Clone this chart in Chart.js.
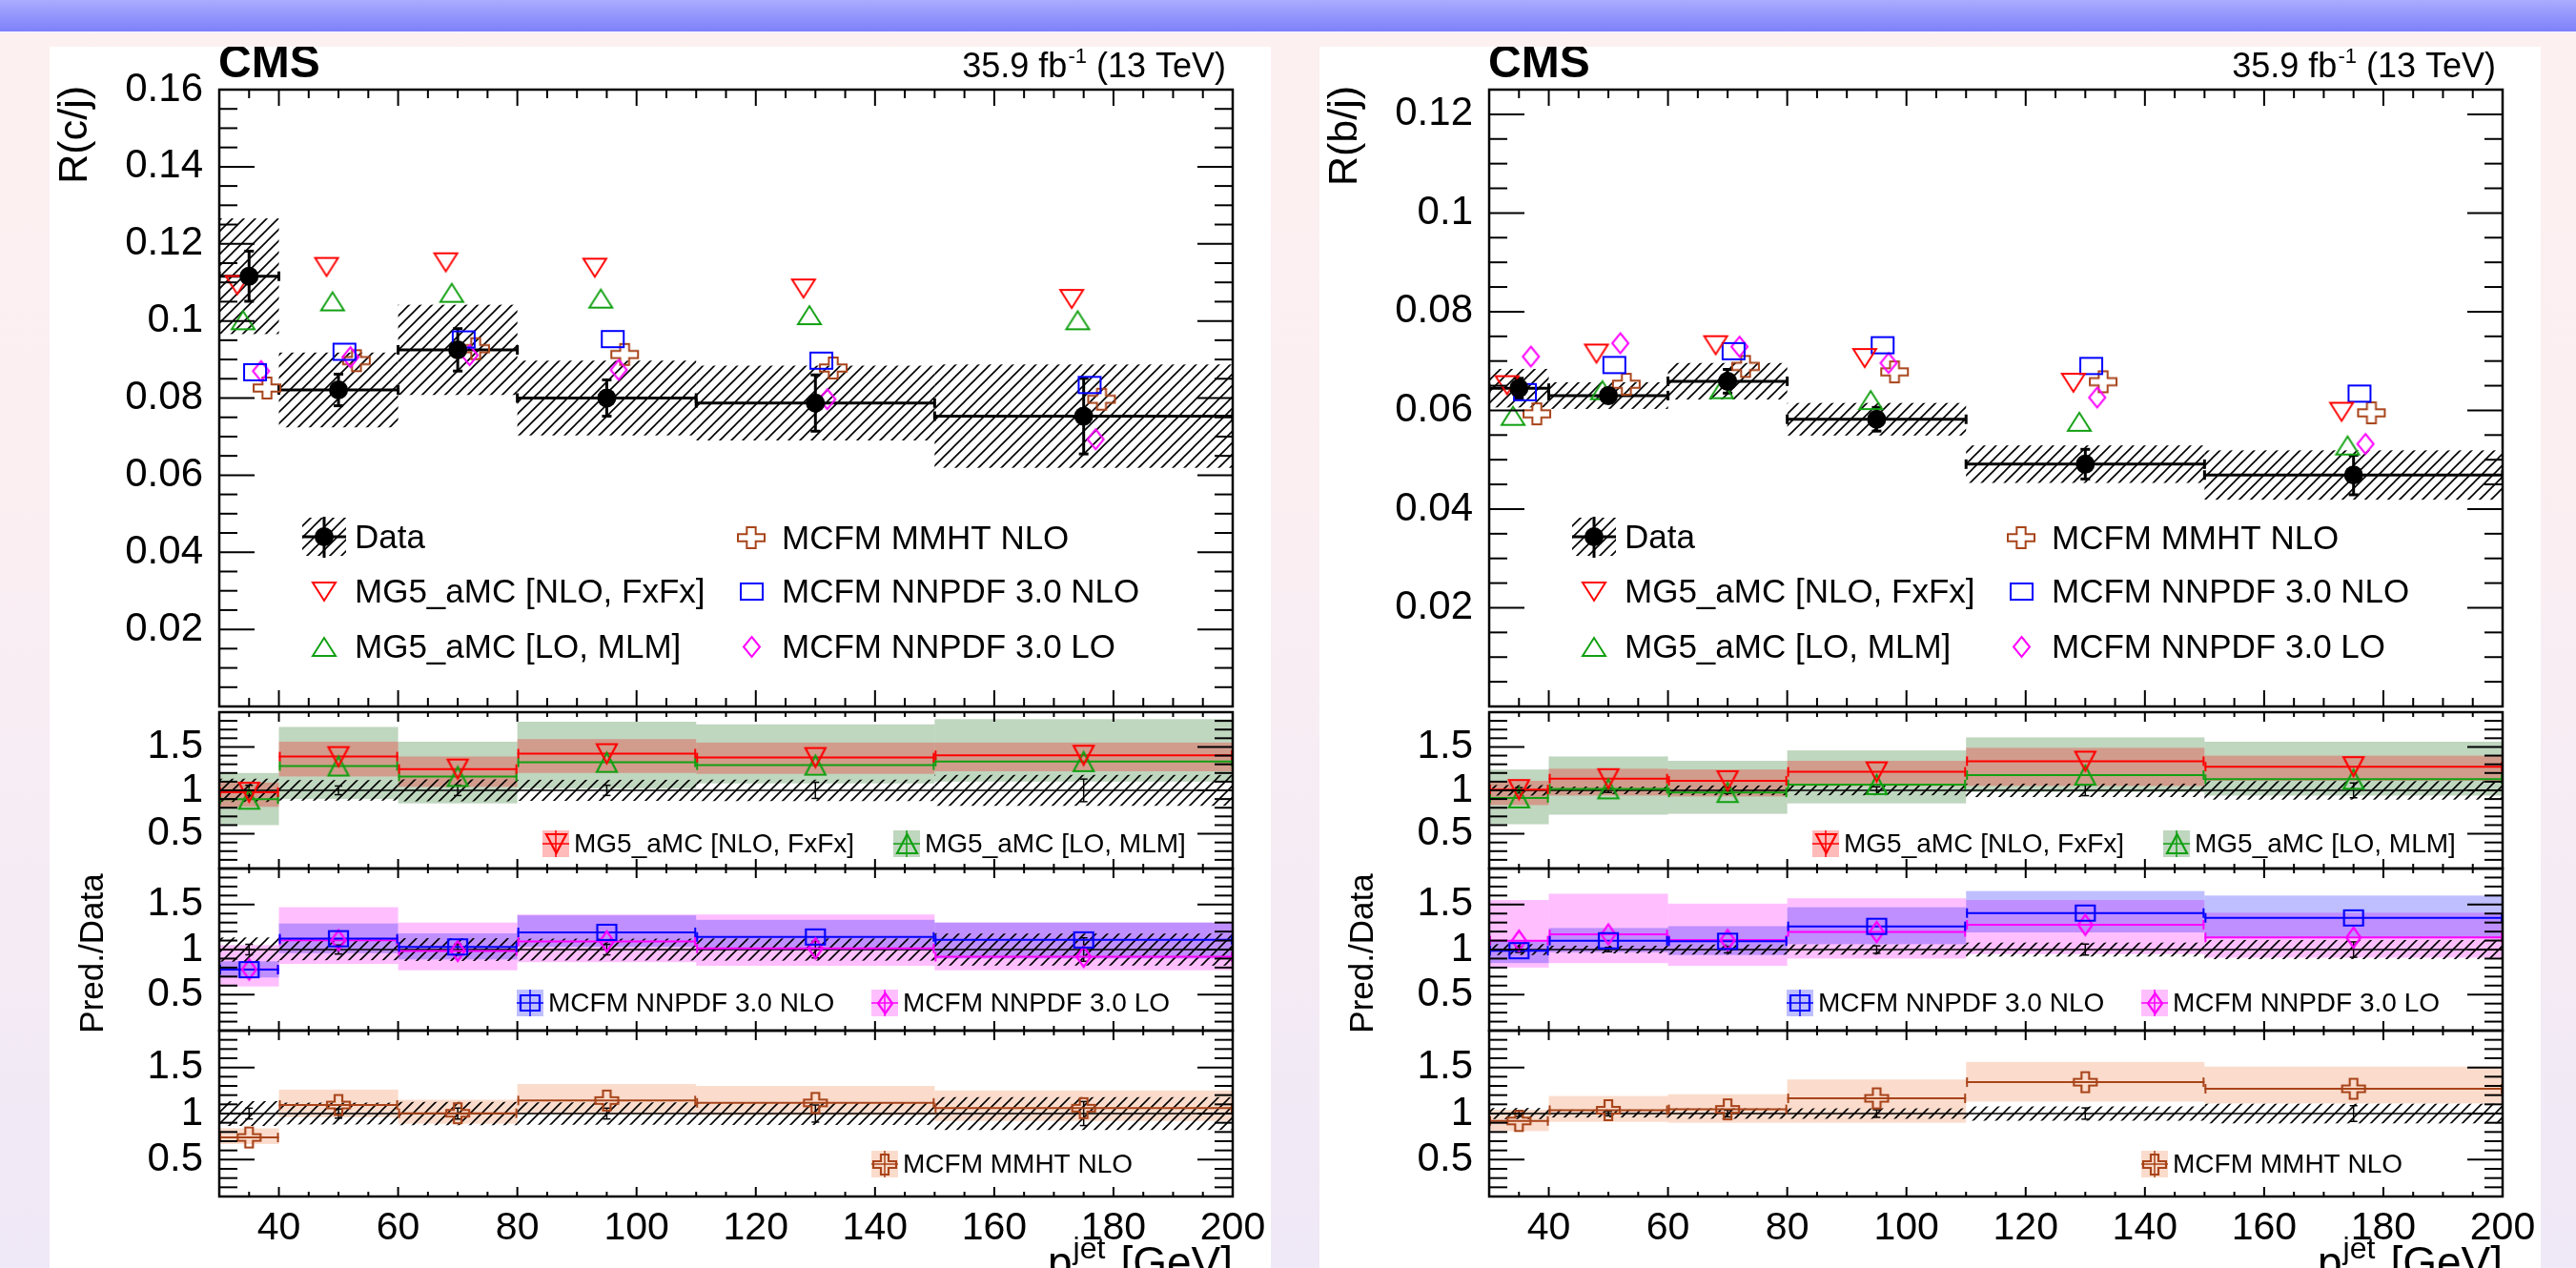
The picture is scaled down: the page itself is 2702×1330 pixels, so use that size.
<!DOCTYPE html>
<html>
<head>
<meta charset="utf-8">
<title>R(c/j) and R(b/j) versus jet pT</title>
<script src="https://cdn.jsdelivr.net/npm/chart.js@4.4.1/dist/chart.umd.min.js"></script>
<style>
  html, body { margin: 0; padding: 0; }
  body {
    width: 2702px; height: 1330px; overflow: hidden; position: relative;
    background: linear-gradient(to bottom, #fdf0f0 0px, #fbeff2 500px, #efe8f6 1330px);
  }
  .topbar {
    position: absolute; left: 0; top: 0; width: 2702px; height: 33px;
    background: linear-gradient(to bottom, #aaacfe, #7e80fb);
    border-bottom: 2px solid #f6f2fc;
  }
  .sheet { position: absolute; top: 49px; width: 1281px; height: 1281px; background: #fff; }
  .sheet canvas { position: absolute; left: 0; top: 0; }
</style>
</head>
<body>
<div class="topbar"></div>
<div class="sheet" style="left:52px">
  <canvas id="cMain" width="1281" height="1281"></canvas>
  <canvas id="cR1" width="1281" height="1281"></canvas>
  <canvas id="cR2" width="1281" height="1281"></canvas>
  <canvas id="cR3" width="1281" height="1281"></canvas>
</div>
<div class="sheet" style="left:1384px">
  <canvas id="bMain" width="1281" height="1281"></canvas>
  <canvas id="bR1" width="1281" height="1281"></canvas>
  <canvas id="bR2" width="1281" height="1281"></canvas>
  <canvas id="bR3" width="1281" height="1281"></canvas>
</div>
<script>
// jet pT binning
const binEdges = [30, 40, 60, 80, 110, 150, 200];
const binCenters = [35, 50, 70, 95, 130, 175];
const xTickLabels = [40, 60, 80, 100, 120, 140, 160, 180, 200];
const ratioTickLabels = [0.5, 1, 1.5];
const yTickLabelsC = [0.02, 0.04, 0.06, 0.08, 0.1, 0.12, 0.14, 0.16];
const yTickLabelsB = [0.02, 0.04, 0.06, 0.08, 0.1, 0.12];
// predictions are drawn slightly shifted inside each bin (GeV)
const markerShift = [-2, -1, 1, 2, 3];

// R(c/j)
const dataC = [0.1116, 0.0821, 0.0925, 0.0800, 0.0787, 0.0753];
const statC = [0.0065, 0.0041, 0.0055, 0.0047, 0.0073, 0.0098];
const systC = [0.0150, 0.0097, 0.0117, 0.0097, 0.0097, 0.0134];
const fxfxC = [0.1093, 0.1140, 0.1152, 0.1138, 0.1084, 0.1057];
const mlmC = [0.1002, 0.1051, 0.1073, 0.1058, 0.1015, 0.1002];
const nnpdfNloC = [0.0867, 0.0920, 0.0952, 0.0953, 0.0897, 0.0834];
const nnpdfLoC = [0.0870, 0.0906, 0.0911, 0.0873, 0.0797, 0.0693];
const mmhtC = [0.0826, 0.0897, 0.0928, 0.0913, 0.0878, 0.0797];
// theory uncertainty on pred./data, [low, high] per bin
const fxfxBandC = [[0.81, 1.09], [1.16, 1.56], [1.04, 1.39], [1.20, 1.59], [1.19, 1.55], [1.22, 1.55]];
const mlmBandC = [[0.60, 1.20], [0.90, 1.73], [0.85, 1.56], [1.02, 1.79], [1.08, 1.76], [1.10, 1.82]];
const nnpdfNloBandC = [[0.69, 0.87], [0.96, 1.29], [0.89, 1.18], [1.03, 1.38], [0.99, 1.33], [0.90, 1.30]];
const nnpdfLoBandC = [[0.59, 1.05], [0.84, 1.47], [0.77, 1.30], [0.86, 1.39], [0.82, 1.39], [0.77, 1.30]];
const mmhtBandC = [[0.67, 0.84], [0.96, 1.26], [0.89, 1.15], [0.99, 1.32], [0.98, 1.30], [0.92, 1.25]];

// R(b/j)
const dataB = [0.0645, 0.0630, 0.0659, 0.0582, 0.0491, 0.0469];
const statB = [0.0020, 0.0015, 0.0024, 0.0024, 0.0030, 0.0040];
const systB = [0.0039, 0.0027, 0.0037, 0.0033, 0.0038, 0.0050];
const fxfxB = [0.0651, 0.0715, 0.0732, 0.0706, 0.0656, 0.0597];
const mlmB = [0.0589, 0.0641, 0.0643, 0.0621, 0.0577, 0.0529];
const nnpdfNloB = [0.0637, 0.0692, 0.0720, 0.0732, 0.0690, 0.0634];
const nnpdfLoB = [0.0709, 0.0736, 0.0729, 0.0696, 0.0626, 0.0532];
const mmhtB = [0.0593, 0.0653, 0.0689, 0.0678, 0.0658, 0.0595];
const fxfxBandB = [[0.83, 1.11], [0.94, 1.25], [0.93, 1.24], [1.05, 1.34], [1.05, 1.49], [1.11, 1.40]];
const mlmBandB = [[0.61, 1.24], [0.72, 1.39], [0.73, 1.34], [0.85, 1.46], [0.98, 1.61], [0.94, 1.56]];
const nnpdfNloBandB = [[0.85, 1.10], [0.97, 1.24], [0.94, 1.26], [1.06, 1.47], [1.19, 1.65], [1.13, 1.60]];
const nnpdfLoBandB = [[0.80, 1.55], [0.85, 1.62], [0.82, 1.51], [0.90, 1.57], [0.95, 1.55], [0.91, 1.41]];
const mmhtBandB = [[0.81, 1.04], [0.91, 1.19], [0.90, 1.21], [0.90, 1.37], [1.13, 1.56], [1.11, 1.51]];

const modelNames = ['MG5_aMC [NLO, FxFx]', 'MG5_aMC [LO, MLM]', 'MCFM NNPDF 3.0 NLO', 'MCFM NNPDF 3.0 LO', 'MCFM MMHT NLO'];

const FONT = "'Liberation Sans', Arial, Helvetica, sans-serif";
const SHEET = 1281;
const PLOT_L = 178, PLOT_R = 1241;

const modelStyle = [
  { color: '#ff0000', band: 'rgba(255,0,0,0.27)', shape: 'down', main: [24, 19], ratio: [21, 20] },
  { color: '#12a012', band: 'rgba(0,90,0,0.25)', shape: 'up', main: [24, 19], ratio: [21, 20] },
  { color: '#0000ff', band: 'rgba(0,0,255,0.25)', shape: 'square', main: [23, 17], ratio: [20, 16] },
  { color: '#ff00ff', band: 'rgba(255,0,255,0.25)', shape: 'diamond', main: [17, 21], ratio: [15, 21] },
  { color: '#a8441a', band: 'rgba(240,110,40,0.24)', shape: 'cross', main: [28, 22], ratio: [24, 21] }
];

const sides = [
  { prefix: 'c', yTitle: 'R(c/j)', yMax: 0.16, yLabels: yTickLabelsC,
    data: dataC, stat: statC, syst: systC,
    preds: [fxfxC, mlmC, nnpdfNloC, nnpdfLoC, mmhtC],
    bands: [fxfxBandC, mlmBandC, nnpdfNloBandC, nnpdfLoBandC, mmhtBandC] },
  { prefix: 'b', yTitle: 'R(b/j)', yMax: 0.125, yLabels: yTickLabelsB,
    data: dataB, stat: statB, syst: systB,
    preds: [fxfxB, mlmB, nnpdfNloB, nnpdfLoB, mmhtB],
    bands: [fxfxBandB, mlmBandB, nnpdfNloBandB, nnpdfLoBandB, mmhtBandB] }
];

// ratio pads: which predictions go where (band drawing order) and legend slots
const ratioPads = [
  { top: 698, bottom: 862, models: [1, 0], legend: [[0, 517], [1, 885]], legendY: 836 },
  { top: 862, bottom: 1032, models: [3, 2], legend: [[2, 490], [3, 862]], legendY: 1003 },
  { top: 1032, bottom: 1206, models: [4], legend: [[4, 862]], legendY: 1172 }
];

function makeMarker(shape, color, w, h, lw) {
  const pad = Math.ceil(lw) + 1;
  const c = document.createElement('canvas');
  c.width = Math.round(w + 2 * pad);
  c.height = Math.round(h + 2 * pad);
  const g = c.getContext('2d');
  const cx = c.width / 2, cy = c.height / 2, hw = w / 2, hh = h / 2;
  g.strokeStyle = color;
  g.lineWidth = lw;
  g.beginPath();
  if (shape === 'down') {
    g.moveTo(cx - hw, cy - hh); g.lineTo(cx + hw, cy - hh); g.lineTo(cx, cy + hh);
  } else if (shape === 'up') {
    g.moveTo(cx - hw, cy + hh); g.lineTo(cx + hw, cy + hh); g.lineTo(cx, cy - hh);
  } else if (shape === 'square') {
    g.rect(cx - hw, cy - hh, w, h);
  } else if (shape === 'diamond') {
    g.moveTo(cx, cy - hh); g.lineTo(cx + hw, cy); g.lineTo(cx, cy + hh); g.lineTo(cx - hw, cy);
  } else {
    const a = w / 6, b = h / 6;
    const pts = [[-a, -hh], [a, -hh], [a, -b], [hw, -b], [hw, b], [a, b], [a, hh], [-a, hh], [-a, b], [-hw, b], [-hw, -b], [-a, -b]];
    pts.forEach(([px, py], i) => i ? g.lineTo(cx + px, cy + py) : g.moveTo(cx + px, cy + py));
  }
  g.closePath();
  g.stroke();
  return c;
}

const mainMarkers = modelStyle.map(s => makeMarker(s.shape, s.color, s.main[0], s.main[1], 2));
const ratioMarkers = modelStyle.map(s => makeMarker(s.shape, s.color, s.ratio[0], s.ratio[1], 2.2));

function hatchPattern(ctx) {
  const t = document.createElement('canvas');
  t.width = t.height = 12;
  const g = t.getContext('2d');
  g.strokeStyle = '#000';
  g.lineWidth = 1.6;
  g.beginPath();
  g.moveTo(0, 12); g.lineTo(12, 0);
  g.moveTo(-2, 2); g.lineTo(2, -2);
  g.moveTo(10, 14); g.lineTo(14, 10);
  g.stroke();
  return ctx.createPattern(t, 'repeat');
}

function line(ctx, x1, y1, x2, y2) {
  ctx.beginPath();
  ctx.moveTo(x1, y1);
  ctx.lineTo(x2, y2);
  ctx.stroke();
}

// the axis boxes take the whole margin, so tick labels are not clipped away
function axisOptions(yMin, yMax, yLabels, showX, bottom) {
  return {
    x: {
      type: 'linear', min: 30, max: 200, bounds: 'data',
      grid: { display: false }, border: { display: false },
      afterFit: s => { s.height = SHEET - bottom; },
      afterBuildTicks: s => { s.ticks = showX ? xTickLabels.map(v => ({ value: v })) : []; },
      ticks: { display: showX, autoSkip: false, maxRotation: 0, padding: 1, color: '#000',
        font: { family: FONT, size: 41 } }
    },
    y: {
      type: 'linear', min: yMin, max: yMax, bounds: 'data',
      grid: { display: false }, border: { display: false },
      afterFit: s => { s.width = PLOT_L; },
      afterBuildTicks: s => { s.ticks = yLabels.map(v => ({ value: v })); },
      ticks: { autoSkip: false, padding: 9, color: '#000', font: { family: FONT, size: 42 },
        callback: v => String(+v.toFixed(3)) }
    }
  };
}

// ROOT-like frame with inward ticks on all four sides
function drawFrame(chart, xMaj, xMin, yTicks) {
  const { ctx, chartArea: a, scales: { x, y } } = chart;
  ctx.save();
  ctx.strokeStyle = '#000';
  ctx.lineWidth = 2;
  for (let v = 35; v < 200; v += 5) {
    const px = x.getPixelForValue(v), len = v % 20 === 0 ? xMaj : xMin;
    line(ctx, px, a.bottom, px, a.bottom - len);
    line(ctx, px, a.top, px, a.top + len);
  }
  yTicks.forEach(([v, major]) => {
    const py = y.getPixelForValue(v), len = major ? 37 : 19;
    line(ctx, a.left, py, a.left + len, py);
    line(ctx, a.right, py, a.right - len, py);
  });
  ctx.lineWidth = 2.5;
  ctx.strokeRect(a.left, a.top, a.right - a.left, a.bottom - a.top);
  ctx.restore();
}

function buildChart(id, datasets, yMin, yMax, yLabels, showX, top, bottom, hooks) {
  return new Chart(document.getElementById(id), {
    type: 'scatter',
    data: { datasets },
    options: {
      responsive: false, animation: false, devicePixelRatio: 1, events: [],
      layout: { padding: { left: 0, right: SHEET - PLOT_R, top, bottom: 0 } },
      plugins: { legend: { display: false }, tooltip: { enabled: false } },
      scales: axisOptions(yMin, yMax, yLabels, showX, bottom)
    },
    plugins: [{
      id: 'rootStyle',
      beforeDatasetsDraw(chart) {
        const { ctx, chartArea: a } = chart;
        ctx.save();
        ctx.beginPath();
        ctx.rect(a.left, a.top, a.right - a.left, a.bottom - a.top);
        ctx.clip();
        hooks.under(chart, ctx, chart.scales.x, chart.scales.y);
        ctx.restore();
      },
      afterDraw(chart) {
        hooks.over(chart, chart.ctx, chart.scales.x, chart.scales.y);
      }
    }]
  });
}

function mainPad(side) {
  const datasets = [{
    data: side.data.map((v, i) => ({ x: binCenters[i], y: v })),
    pointStyle: 'circle', pointRadius: 10, backgroundColor: '#000', borderColor: '#000', borderWidth: 0
  }];
  side.preds.forEach((p, k) => datasets.push({
    data: p.map((v, i) => ({ x: binCenters[i] + markerShift[k], y: v })),
    pointStyle: mainMarkers[k], pointRadius: 6, borderWidth: 0
  }));

  const yTicks = [];
  for (let k = 1; k * 0.005 < side.yMax - 1e-9; k++) yTicks.push([k * 0.005, k % 4 === 0]);

  buildChart(side.prefix + 'Main', datasets, 0, side.yMax, side.yLabels, false, 45, 692, {
    under(chart, ctx, x, y) {
      ctx.fillStyle = hatchPattern(ctx);
      side.data.forEach((v, i) => {
        const x1 = x.getPixelForValue(binEdges[i]), x2 = x.getPixelForValue(binEdges[i + 1]);
        const yt = y.getPixelForValue(v + side.syst[i]), yb = y.getPixelForValue(v - side.syst[i]);
        ctx.fillRect(x1, yt, x2 - x1, yb - yt);
      });
      ctx.strokeStyle = '#000';
      ctx.lineWidth = 3;
      side.data.forEach((v, i) => {
        const x1 = x.getPixelForValue(binEdges[i]), x2 = x.getPixelForValue(binEdges[i + 1]);
        const yv = y.getPixelForValue(v), xc = x.getPixelForValue(binCenters[i]);
        line(ctx, x1, yv, x2, yv);
        line(ctx, x1, yv - 5, x1, yv + 5);
        line(ctx, x2, yv - 5, x2, yv + 5);
        const yt = y.getPixelForValue(v + side.stat[i]), yb = y.getPixelForValue(v - side.stat[i]);
        line(ctx, xc, yt, xc, yb);
        line(ctx, xc - 5, yt, xc + 5, yt);
        line(ctx, xc - 5, yb, xc + 5, yb);
      });
    },
    over(chart, ctx) {
      drawFrame(chart, 17, 9, yTicks);
      ctx.save();
      ctx.fillStyle = '#000';
      // header
      ctx.textBaseline = 'alphabetic';
      ctx.textAlign = 'left';
      ctx.font = `bold 48px ${FONT}`;
      ctx.fillText('CMS', 177, 32);
      ctx.textAlign = 'right';
      ctx.font = `36px ${FONT}`;
      let xr = 1234;
      ctx.fillText(' (13 TeV)', xr, 32);
      xr -= ctx.measureText(' (13 TeV)').width;
      ctx.font = `22px ${FONT}`;
      ctx.fillText('-1', xr, 17);
      xr -= ctx.measureText('-1').width + 1;
      ctx.font = `36px ${FONT}`;
      ctx.fillText('35.9 fb', xr, 32);
      // y title
      ctx.save();
      ctx.translate(27, 41);
      ctx.rotate(-Math.PI / 2);
      ctx.font = `43px ${FONT}`;
      ctx.textAlign = 'right';
      ctx.textBaseline = 'middle';
      ctx.fillText(side.yTitle, 0, 0);
      ctx.restore();

      // legend
      ctx.textAlign = 'left';
      ctx.textBaseline = 'middle';
      ctx.font = `35px ${FONT}`;
      ctx.fillStyle = hatchPattern(ctx);
      ctx.fillRect(265, 494, 46, 40);
      ctx.strokeStyle = '#000';
      ctx.lineWidth = 3;
      line(ctx, 265, 514, 311, 514);
      line(ctx, 288, 493, 288, 536);
      ctx.fillStyle = '#000';
      ctx.beginPath();
      ctx.arc(288, 514, 10, 0, Math.PI * 2);
      ctx.fill();
      ctx.fillText('Data', 320, 516);
      const slots = [[0, 288, 571], [1, 288, 629], [4, 736, 515], [2, 736, 571], [3, 736, 629]];
      slots.forEach(([k, mx, my]) => {
        const m = mainMarkers[k];
        ctx.drawImage(m, Math.round(mx - m.width / 2), Math.round(my - m.height / 2));
        ctx.fillText(modelNames[k], mx + 32, my + 2);
      });
      ctx.restore();
    }
  });
}

function ratioPad(side, pad, n) {
  const datasets = pad.models.slice().reverse().map(k => ({
    data: side.preds[k].map((v, i) => ({ x: binCenters[i], y: v / side.data[i] })),
    pointStyle: ratioMarkers[k], pointRadius: 6, borderWidth: 0
  }));
  const yTicks = [];
  for (let k = 2; k <= 18; k++) yTicks.push([k / 10, k % 5 === 0]);

  buildChart(side.prefix + 'R' + (n + 1), datasets, 0.1, 1.9, ratioTickLabels, n === 2, pad.top, pad.bottom, {
    under(chart, ctx, x, y) {
      const edges = i => [x.getPixelForValue(binEdges[i]), x.getPixelForValue(binEdges[i + 1])];
      pad.models.forEach(k => {
        ctx.fillStyle = modelStyle[k].band;
        side.bands[k].forEach(([lo, hi], i) => {
          const [x1, x2] = edges(i);
          const yt = y.getPixelForValue(hi), yb = y.getPixelForValue(lo);
          ctx.fillRect(x1, yt, x2 - x1, yb - yt);
        });
      });
      ctx.fillStyle = hatchPattern(ctx);
      side.data.forEach((v, i) => {
        const [x1, x2] = edges(i);
        const rel = side.syst[i] / v;
        const yt = y.getPixelForValue(1 + rel), yb = y.getPixelForValue(1 - rel);
        ctx.fillRect(x1, yt, x2 - x1, yb - yt);
      });
      ctx.strokeStyle = '#000';
      ctx.lineWidth = 1.5;
      const y1 = y.getPixelForValue(1);
      line(ctx, chart.chartArea.left, y1, chart.chartArea.right, y1);
      side.data.forEach((v, i) => {
        const xc = x.getPixelForValue(binCenters[i]);
        const rel = side.stat[i] / v;
        const yt = y.getPixelForValue(1 + rel), yb = y.getPixelForValue(1 - rel);
        line(ctx, xc, yt, xc, yb);
        line(ctx, xc - 4, yt, xc + 4, yt);
        line(ctx, xc - 4, yb, xc + 4, yb);
      });
      ctx.lineWidth = 2;
      pad.models.forEach(k => {
        ctx.strokeStyle = modelStyle[k].color;
        side.preds[k].forEach((p, i) => {
          const [x1, x2] = edges(i);
          const yv = y.getPixelForValue(p / side.data[i]);
          line(ctx, x1, yv, x2, yv);
          line(ctx, x1 + 1, yv - 5, x1 + 1, yv + 5);
          line(ctx, x2 - 1, yv - 5, x2 - 1, yv + 5);
        });
      });
    },
    over(chart, ctx) {
      drawFrame(chart, 10, 5, yTicks);
      ctx.save();
      // legend
      ctx.font = `28px ${FONT}`;
      ctx.textAlign = 'left';
      ctx.textBaseline = 'middle';
      pad.legend.forEach(([k, bx]) => {
        const by = pad.legendY, st = modelStyle[k];
        ctx.fillStyle = st.band;
        ctx.fillRect(bx, by - 14, 28, 28);
        ctx.strokeStyle = st.color;
        ctx.lineWidth = 1.5;
        line(ctx, bx, by, bx + 28, by);
        line(ctx, bx + 14, by - 14, bx + 14, by + 14);
        const m = ratioMarkers[k];
        ctx.drawImage(m, Math.round(bx + 14 - m.width / 2), Math.round(by - m.height / 2));
        ctx.fillStyle = '#000';
        ctx.fillText(modelNames[k], bx + 33, by + 1);
      });
      if (n === 1) {
        ctx.save();
        ctx.translate(46, 951);
        ctx.rotate(-Math.PI / 2);
        ctx.font = `35px ${FONT}`;
        ctx.textAlign = 'center';
        ctx.fillText('Pred./Data', 0, 0);
        ctx.restore();
      }
      if (n === 2) {
        // x title, partly below the sheet edge
        const base = 1291;
        let xr = 1241;
        ctx.textAlign = 'right';
        ctx.textBaseline = 'alphabetic';
        ctx.font = `46px ${FONT}`;
        ctx.fillText('[GeV]', xr, base);
        xr -= ctx.measureText('[GeV]').width + 16;
        ctx.font = `32px ${FONT}`;
        ctx.fillText('jet', xr, base - 20);
        ctx.fillText('T', xr - 12, base + 14);
        xr -= ctx.measureText('jet').width + 1;
        ctx.font = `46px ${FONT}`;
        ctx.fillText('p', xr, base);
      }
      ctx.restore();
    }
  });
}

sides.forEach(side => {
  mainPad(side);
  ratioPads.forEach((pad, n) => ratioPad(side, pad, n));
});
</script>
</body>
</html>
